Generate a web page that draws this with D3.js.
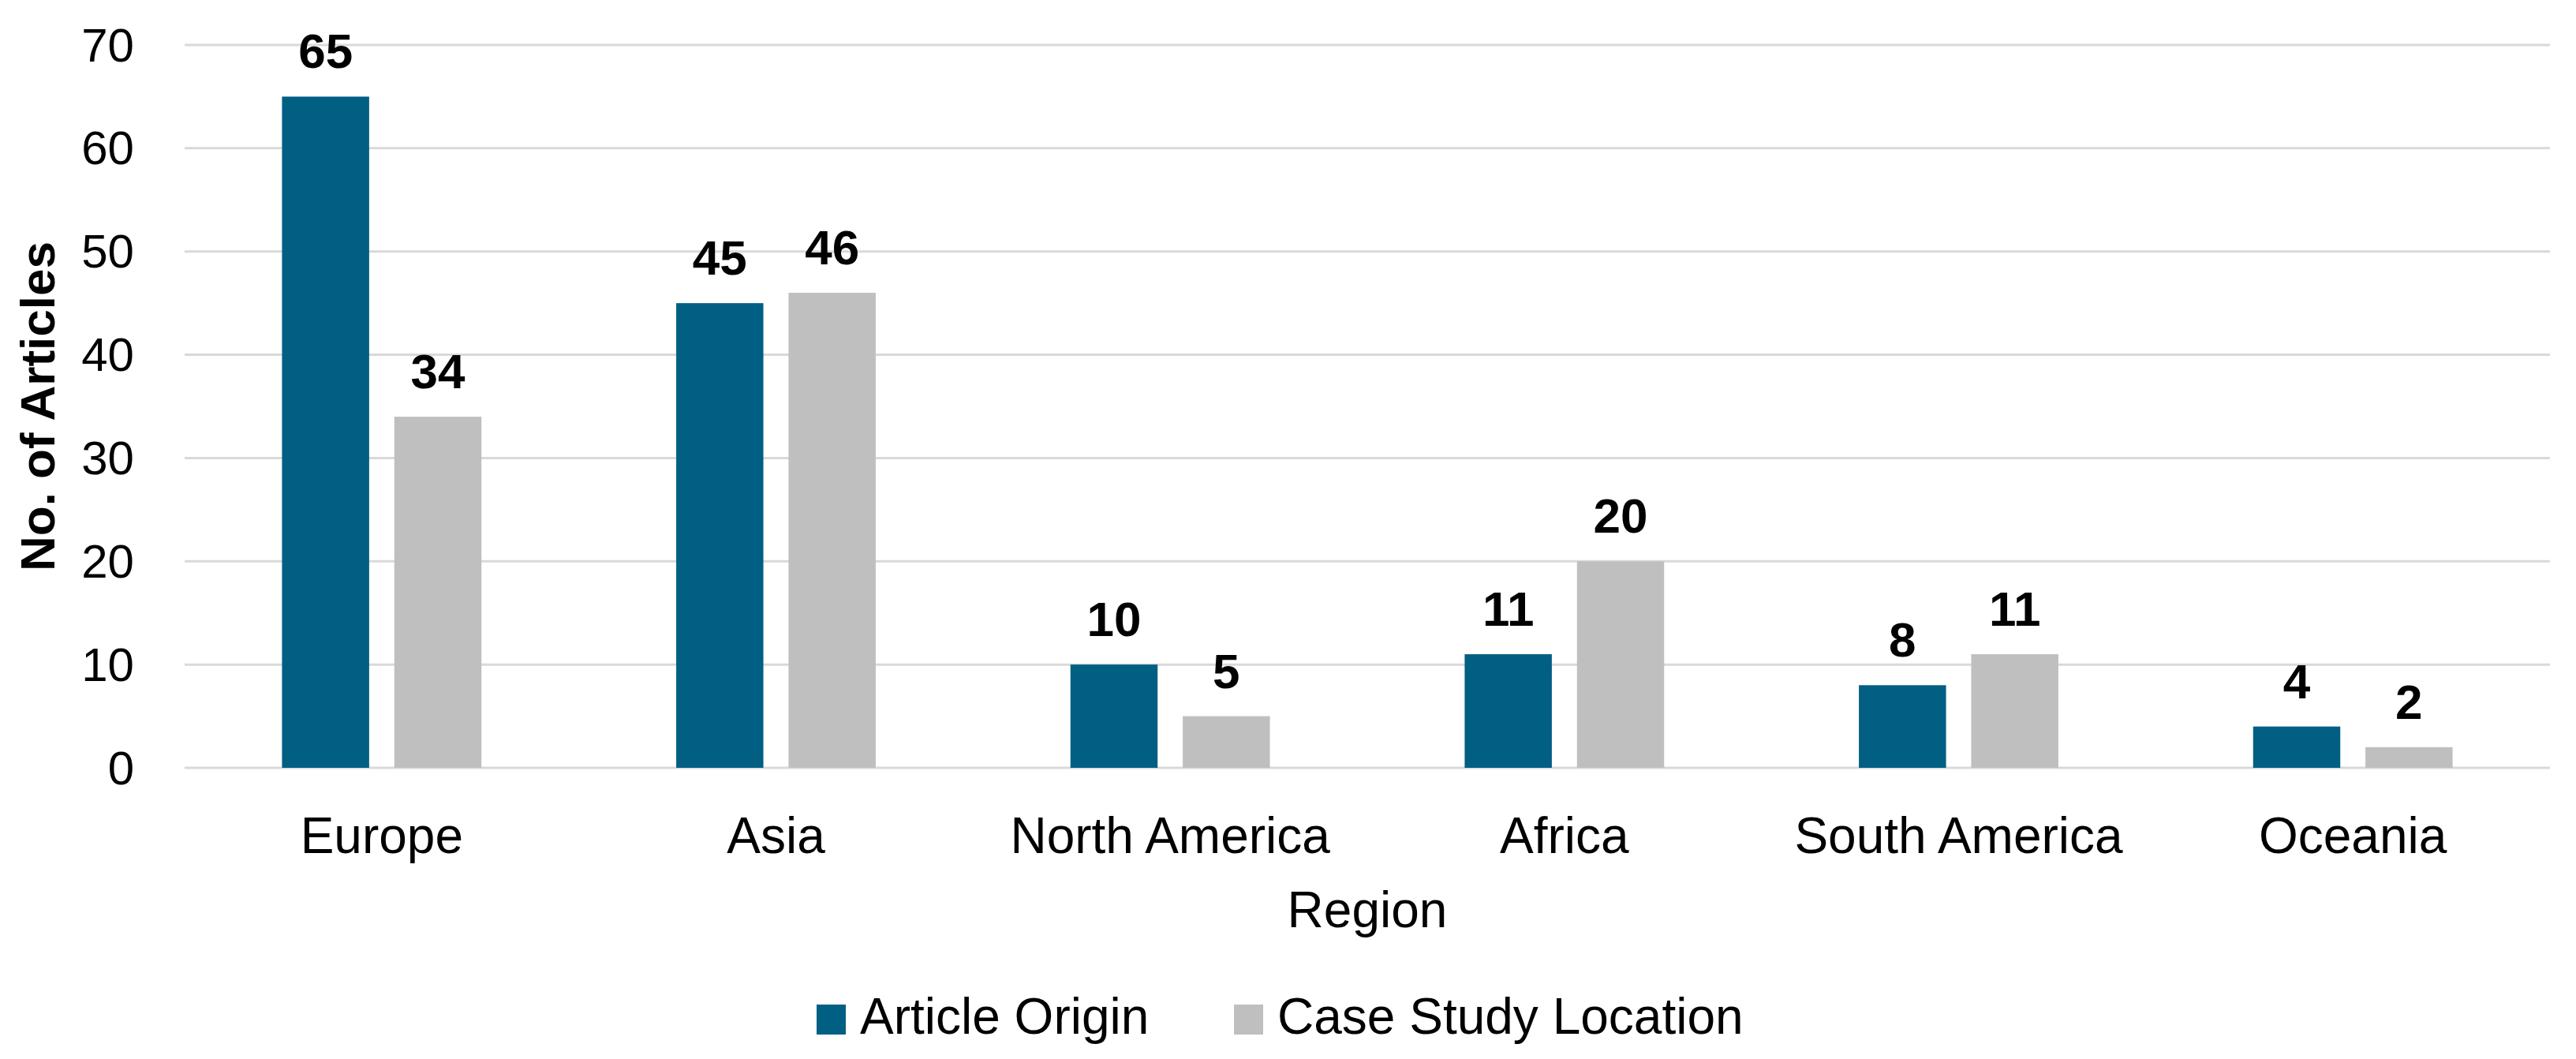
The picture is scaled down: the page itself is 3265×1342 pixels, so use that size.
<!DOCTYPE html>
<html>
<head>
<meta charset="utf-8">
<script src="https://cdn.jsdelivr.net/npm/d3@7"></script>
<style>
  html, body { margin: 0; padding: 0; background: #ffffff; }
  svg { display: block; }
  text { font-family: "Liberation Sans", Arial, sans-serif; fill: #000; }
</style>
</head>
<body>
<svg id="chart" width="3265" height="1342"></svg>
<script>
const categories = ["Europe", "Asia", "North America", "Africa", "South America", "Oceania"];
const seriesNames = ["Article Origin", "Case Study Location"];
const articleOrigin = [65, 45, 10, 11, 8, 4];
const caseStudyLocation = [34, 46, 5, 20, 11, 2];
const yTicks = [0, 10, 20, 30, 40, 50, 60, 70];
const colors = ["#005F83", "#BFBFBF"];

const seriesValues = [articleOrigin, caseStudyLocation];

const W = 3265, H = 1342;
const plot = { left: 234, right: 3232, top: 57, bottom: 973 };

const svg = d3.select("#chart");
svg.append("rect").attr("width", W).attr("height", H).attr("fill", "#fff");

const x0 = d3.scaleBand().domain(categories).range([plot.left, plot.right]).paddingInner(0).paddingOuter(0);
const bw = x0.bandwidth();
const x1 = d3.scaleBand().domain(seriesNames).range([bw * 0.247, bw * 0.753]).paddingInner(0.224);
const y = d3.scaleLinear().domain([0, 70]).range([plot.bottom, plot.top]);

// gridlines
svg.append("g").selectAll("line").data(yTicks).join("line")
  .attr("x1", plot.left).attr("x2", plot.right)
  .attr("y1", d => y(d)).attr("y2", d => y(d))
  .attr("stroke", "#D9D9D9").attr("stroke-width", 3);

// y tick labels
svg.append("g").selectAll("text").data(yTicks).join("text")
  .attr("x", 170).attr("y", d => y(d))
  .attr("text-anchor", "end").attr("dominant-baseline", "central")
  .attr("font-size", 60)
  .text(d => d);

// bars
const groups = svg.append("g").selectAll("g").data(categories).join("g")
  .attr("transform", d => `translate(${x0(d)},0)`);

seriesNames.forEach((s, si) => {
  groups.append("rect")
    .attr("x", x1(s))
    .attr("width", x1.bandwidth())
    .attr("y", (d, i) => y(seriesValues[si][i]))
    .attr("height", (d, i) => y(0) - y(seriesValues[si][i]))
    .attr("fill", colors[si]);
  groups.append("text")
    .attr("x", x1(s) + x1.bandwidth() / 2)
    .attr("y", (d, i) => y(seriesValues[si][i]) - 36)
    .attr("text-anchor", "middle")
    .attr("font-size", 62).attr("font-weight", "bold")
    .text((d, i) => seriesValues[si][i]);
});

// category labels
svg.append("g").selectAll("text").data(categories).join("text")
  .attr("x", d => x0(d) + bw / 2).attr("y", 1081)
  .attr("text-anchor", "middle").attr("font-size", 64)
  .text(d => d);

// axis titles
svg.append("text")
  .attr("x", (plot.left + plot.right) / 2).attr("y", 1175)
  .attr("text-anchor", "middle").attr("font-size", 64)
  .text("Region");

svg.append("text")
  .attr("transform", `translate(69,${(plot.top + plot.bottom) / 2}) rotate(-90)`)
  .attr("text-anchor", "middle").attr("font-size", 62).attr("font-weight", "bold")
  .text("No. of Articles");

// legend
const legendX = [1035, 1564];
const leg = svg.append("g").selectAll("g").data(seriesNames).join("g")
  .attr("transform", (d, i) => `translate(${legendX[i]},0)`);
leg.append("rect").attr("x", 0).attr("y", 1273).attr("width", 37).attr("height", 38)
  .attr("fill", (d, i) => colors[i]);
leg.append("text").attr("x", 55).attr("y", 1310).attr("font-size", 64)
  .text(d => d);
</script>
</body>
</html>
